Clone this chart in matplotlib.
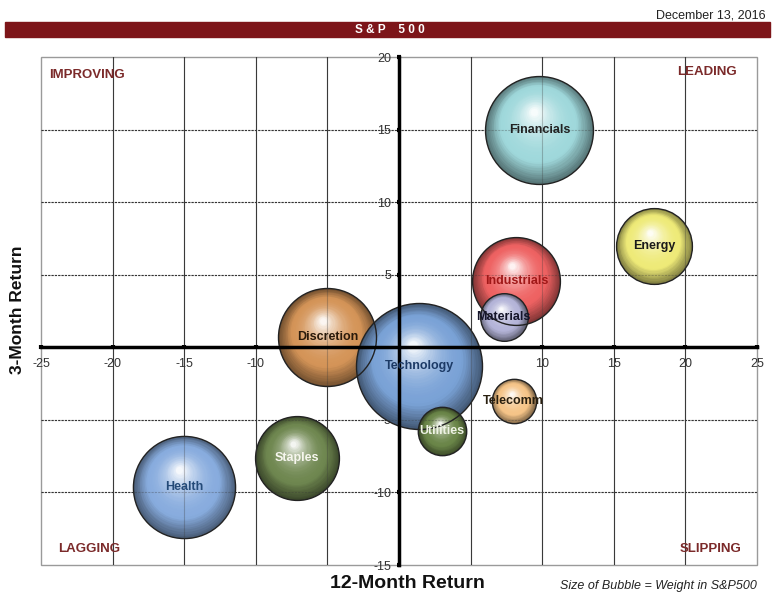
import numpy as np
import matplotlib
matplotlib.use("Agg")
import matplotlib.pyplot as plt
from matplotlib.colors import to_rgb
from matplotlib.patches import Rectangle
from matplotlib.transforms import offset_copy

plt.rcParams["font.family"] = "Liberation Sans"
plt.rcParams["axes.unicode_minus"] = False

# data
sectors = ["Financials", "Energy", "Industrials", "Materials", "Discretion",
           "Technology", "Telecomm", "Utilities", "Staples", "Health"]
ret_12m = [9.8, 17.8, 8.2, 7.3, -5.0, 1.4, 8.0, 3.0, -7.1, -15.0]
ret_3m = [15.0, 7.0, 4.6, 2.1, 0.7, -1.3, -3.7, -5.8, -7.6, -9.6]
weight = [15.4, 7.6, 10.2, 3.0, 12.7, 21.0, 2.6, 3.1, 9.3, 13.8]
bubble_col = ["#9fd8db", "#eeea78", "#ee6262", "#b4b4d8", "#d49458",
              "#7aa2d6", "#f5c488", "#6a8548", "#6f8750", "#88acde"]
text_col = ["#222222", "#1a1a1a", "#a01818", "#15152a", "#2a1a0a",
            "#1c3a66", "#2a2010", "#eef2e4", "#f6f6ee", "#244a78"]
xticks = list(range(-25, 26, 5))
yticks = list(range(-15, 21, 5))

RSCALE = 13.75  # bubble radius in pixels per sqrt(weight)

fig = plt.figure(figsize=(7.72, 5.92), dpi=100)
ax = fig.add_axes([41 / 772, 1 - 565 / 592, 716 / 772, 508 / 592])
ax.set_xlim(-25, 25)
ax.set_ylim(-15, 20)


def grid_lines(zo, alpha):
    for xv in xticks[1:-1]:
        ax.axvline(xv, color="#3a3a3a", lw=0.8, zorder=zo, alpha=alpha)
    for yv in yticks[1:-1]:
        if yv != 0:
            ax.axhline(yv, color="#333333", lw=0.8, ls=(0, (2, 1)), zorder=zo, alpha=alpha)


grid_lines(1, 1.0)


def sphere(x, y, w, colour):
    r = RSCALE * np.sqrt(w) * 0.72  # points
    base = np.array(to_rgb(colour))
    n = 32
    for i in range(n):
        t = i / (n - 1)
        f = 1 - 0.93 * t
        dx = -0.10 * r * (1 - f)
        dy = 0.36 * r * (1 - f)
        if t < 0.3:
            c = base * (0.55 + 0.45 * t / 0.3)
        else:
            u = (t - 0.3) / 0.7
            c = base + (1 - base) * (u ** 2.0) * 0.92
        tr = offset_copy(ax.transData, fig=fig, x=dx, y=dy, units="points")
        ax.plot([x], [y], "o", ms=2 * r * f, mfc=np.clip(c, 0, 1), mec="none",
                transform=tr, zorder=2)
    ax.plot([x], [y], "o", ms=2 * r, mfc="none", mec="#222222", mew=1.0, zorder=2.05)


for xv, yv, w, c in zip(ret_12m, ret_3m, weight, bubble_col):
    sphere(xv, yv, w, c)

grid_lines(2.1, 0.3)

for xv, yv, s, tc in zip(ret_12m, ret_3m, sectors, text_col):
    ax.text(xv, yv, s, ha="center", va="center", fontsize=9, fontweight="bold",
            color=tc, zorder=10)

# axes crossing at zero
for side in ["top", "right"]:
    ax.spines[side].set_visible(False)
ax.spines["left"].set_position(("data", 0))
ax.spines["bottom"].set_position(("data", 0))
for side in ["left", "bottom"]:
    ax.spines[side].set_linewidth(2.5)
    ax.spines[side].set_color("black")
ax.set_xticks(xticks)
ax.set_yticks(yticks)
ax.tick_params(direction="inout", length=3.5, width=3, labelsize=9,
               labelcolor="#333333", color="black")
ax.tick_params(axis="y", pad=4)
ax.tick_params(axis="x", pad=6)
ax.add_patch(Rectangle((0, 0), 1, 1, transform=ax.transAxes, fill=False,
                       ec="#9a9a9a", lw=1, zorder=0.9, clip_on=False))

qc = "#7b2a2a"
ax.text(0.011, 0.965, "IMPROVING", transform=ax.transAxes, ha="left", va="center",
        fontsize=9.5, fontweight="bold", color=qc)
ax.text(0.972, 0.970, "LEADING", transform=ax.transAxes, ha="right", va="center",
        fontsize=9.5, fontweight="bold", color=qc)
ax.text(0.024, 0.031, "LAGGING", transform=ax.transAxes, ha="left", va="center",
        fontsize=9.5, fontweight="bold", color=qc)
ax.text(0.978, 0.031, "SLIPPING", transform=ax.transAxes, ha="right", va="center",
        fontsize=9.5, fontweight="bold", color=qc)

# header
fig.text(766 / 772, 1 - 15 / 592, "December 13, 2016", ha="right", va="center",
         fontsize=9, color="#222222")
fig.patches.append(Rectangle((5 / 772, 1 - 37 / 592), 765 / 772, 15 / 592,
                             transform=fig.transFigure, color="#7d1519"))
fig.text(390 / 772, 1 - 30 / 592, "S & P    5 0 0", ha="center", va="center",
         fontsize=8.5, fontweight="bold", color="white")

fig.text(18 / 772, 1 - 310 / 592, "3-Month Return", rotation=90, ha="center",
         va="center", fontsize=12.5, fontweight="bold", color="#111111")
fig.text(407 / 772, 1 - 584 / 592, "12-Month Return", ha="center", va="center",
         fontsize=14, fontweight="bold", color="#111111")
fig.text(757 / 772, 1 - 586 / 592, "Size of Bubble = Weight in S&P500", ha="right",
         va="center", fontsize=9, style="italic", color="#222222")

fig.savefig("out.png", dpi=100)
